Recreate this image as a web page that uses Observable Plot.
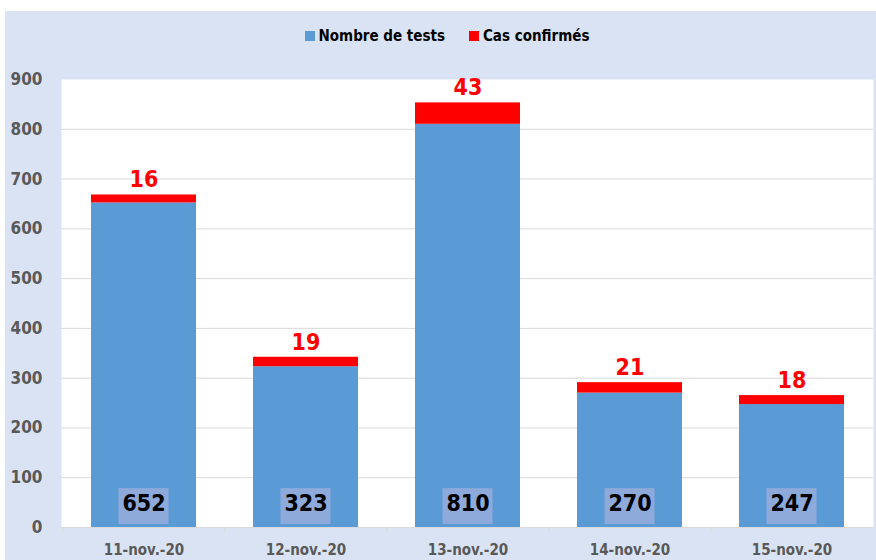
<!DOCTYPE html>
<html><head><meta charset="utf-8">
<script src="https://cdn.jsdelivr.net/npm/d3@7"></script>
<script src="https://cdn.jsdelivr.net/npm/@observablehq/plot@0.6"></script>
<style>
body{margin:0;background:#fff;}
#wrap{position:absolute;left:5px;top:11px;width:871px;height:549px;background:#dae3f3;overflow:hidden;font-family:"Liberation Sans Narrow","Arial Narrow","DejaVu Sans Condensed",sans-serif;}
#legend{height:50px;display:flex;justify-content:center;align-items:center;font-weight:bold;font-size:15px;color:#000;padding-left:13px;box-sizing:border-box;}
#legend span.sw{display:inline-block;width:10px;height:10px;margin-right:4px;}
#legend .item{display:flex;align-items:center;margin:0 12px;}
#chart svg{display:block;}
</style>
</head><body>
<div id="wrap">
  <div id="legend"></div>
  <div id="chart"></div>
</div>
<script>
const dates = ["11-nov.-20", "12-nov.-20", "13-nov.-20", "14-nov.-20", "15-nov.-20"];
const tests = [652, 323, 810, 270, 247];
const confirmed = [16, 19, 43, 21, 18];
const seriesNames = ["Nombre de tests", "Cas confirmés"];
const seriesColors = ["#5b9bd5", "#ff0000"];
const yTicks = [0, 100, 200, 300, 400, 500, 600, 700, 800, 900];

const rows = dates.map((d, i) => ({date: d, tests: tests[i], conf: confirmed[i], total: tests[i] + confirmed[i]}));

const legend = document.getElementById("legend");
seriesNames.forEach((n, i) => {
  const it = document.createElement("div");
  it.className = "item";
  it.innerHTML = `<span class="sw" style="background:${seriesColors[i]}"></span><span>${n}</span>`;
  legend.appendChild(it);
});

const font = '"Liberation Sans Narrow","Arial Narrow","DejaVu Sans Condensed",sans-serif';
const chart = Plot.plot({
  width: 871, height: 499,
  marginTop: 18, marginBottom: 33, marginLeft: 56, marginRight: 3,
  style: {background: "transparent", fontFamily: font},
  x: {domain: dates, paddingInner: 0.353, paddingOuter: 0.1765, label: null},
  y: {domain: [0, 900], label: null},
  marks: [
    Plot.frame({fill: "white", stroke: null}),
    Plot.gridY(yTicks.slice(1, -1), {stroke: "#d9d9d9", strokeOpacity: 1}),
    Plot.ruleY([0], {stroke: "#d9d9d9"}),
    Plot.ruleX(dates, {x: d => d, y1: 0, y2: () => -10, dx: -81.2, stroke: "#d9d9d9", clip: false}),
    Plot.barY(rows, {x: "date", y1: 0, y2: "tests", fill: seriesColors[0]}),
    Plot.barY(rows, {x: "date", y1: "tests", y2: "total", fill: seriesColors[1]}),
    Plot.barY(rows, {x: "date", y1: () => 6, y2: () => 78, fill: "#8eaadb", insetLeft: 27.5, insetRight: 27.5}),
    Plot.text(rows, {x: "date", y: 0, text: "tests", dy: -24, fill: "#000", fontSize: 23, fontWeight: "bold"}),
    Plot.text(rows, {x: "date", y: "total", text: "conf", dy: -15, fill: "#ff0000", fontSize: 23, fontWeight: "bold"}),
    Plot.axisY({ticks: yTicks, tickSize: 0, tickPadding: 19, fontSize: 17, fontWeight: "bold", color: "#595959", label: null}),
    Plot.axisX({tickSize: 0, tickPadding: 17, fontSize: 15, fontWeight: "bold", color: "#595959", label: null})
  ]
});
document.getElementById("chart").appendChild(chart);
</script>
</body></html>
